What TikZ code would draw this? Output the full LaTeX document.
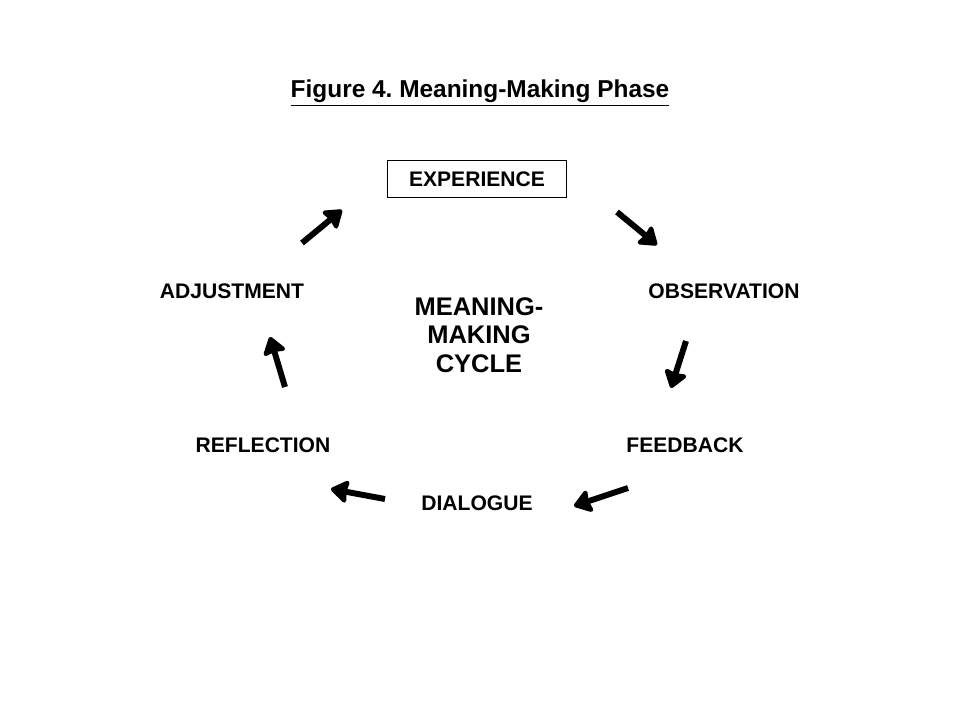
\documentclass[tikz,border=0pt]{standalone}
\usepackage{fontspec}
\setmainfont{Liberation Sans}
\usepackage{tikz}
\usetikzlibrary{arrows.meta,positioning,calc}
\definecolor{inkBlack}{HTML}{000000}

\begin{document}
\frenchspacing
\begin{tikzpicture}[
            x=0.02cm, y=-0.02cm,
            stage/.style={
                    rectangle,
                    inner sep=2pt,
                    align=center,
                    font=\bfseries\fontsize{12}{14}\selectfont
                },
            topbox/.style={
                    stage,
                    draw=inkBlack,
                    line width=0.6pt,
                    minimum width=3.58cm,
                    minimum height=0.74cm
                },
            hub/.style={
                    rectangle,
                    align=center,
                    font=\bfseries\fontsize{14.5}{16.2}\selectfont
                },
            heading/.style={
                    font=\bfseries\fontsize{13.9}{16}\selectfont
                },
            arrow/.style={
                    -{Stealth[length=11pt,width=15pt,inset=1.2pt,line join=round]},
                    line width=3.4pt,
                    draw=inkBlack
                }
        ]

        \useasboundingbox (0,0) rectangle (960,720);

        % Title
        \node[heading] (title) at (480,93) {\underline{Figure 4. Meaning-Making Phase}};

        % Cycle
        \node[topbox] (experience) at (477,179) {EXPERIENCE};
        \node[stage] (observation) at (724,291) {OBSERVATION};
        \node[stage] (feedback) at (685,445) {FEEDBACK};
        \node[stage] (dialogue) at (477,503) {DIALOGUE};
        \node[stage] (reflection) at (263,445) {REFLECTION};
        \node[stage] (adjustment) at (232,291) {ADJUSTMENT};

        % Centre
        \node[hub] (cycle) at (479,335) {MEANING-\\MAKING\\CYCLE};

        % Arrow ends
        \coordinate (expStart) at (617,212);
        \coordinate (expEnd) at (657,245);
        \coordinate (obsStart) at (686,341);
        \coordinate (obsEnd) at (671,388);
        \coordinate (fbStart) at (628,488);
        \coordinate (fbEnd) at (574,506);
        \coordinate (dlgStart) at (385,499);
        \coordinate (dlgEnd) at (331,489);
        \coordinate (rflStart) at (285,387);
        \coordinate (rflEnd) at (270,337);
        \coordinate (adjStart) at (302,243);
        \coordinate (adjEnd) at (342,210);

        % Arrows
        \draw[arrow] (expStart) -- (expEnd);
        \draw[arrow] (obsStart) -- (obsEnd);
        \draw[arrow] (fbStart) -- (fbEnd);
        \draw[arrow] (dlgStart) -- (dlgEnd);
        \draw[arrow] (rflStart) -- (rflEnd);
        \draw[arrow] (adjStart) -- (adjEnd);

    \end{tikzpicture}
\end{document}
